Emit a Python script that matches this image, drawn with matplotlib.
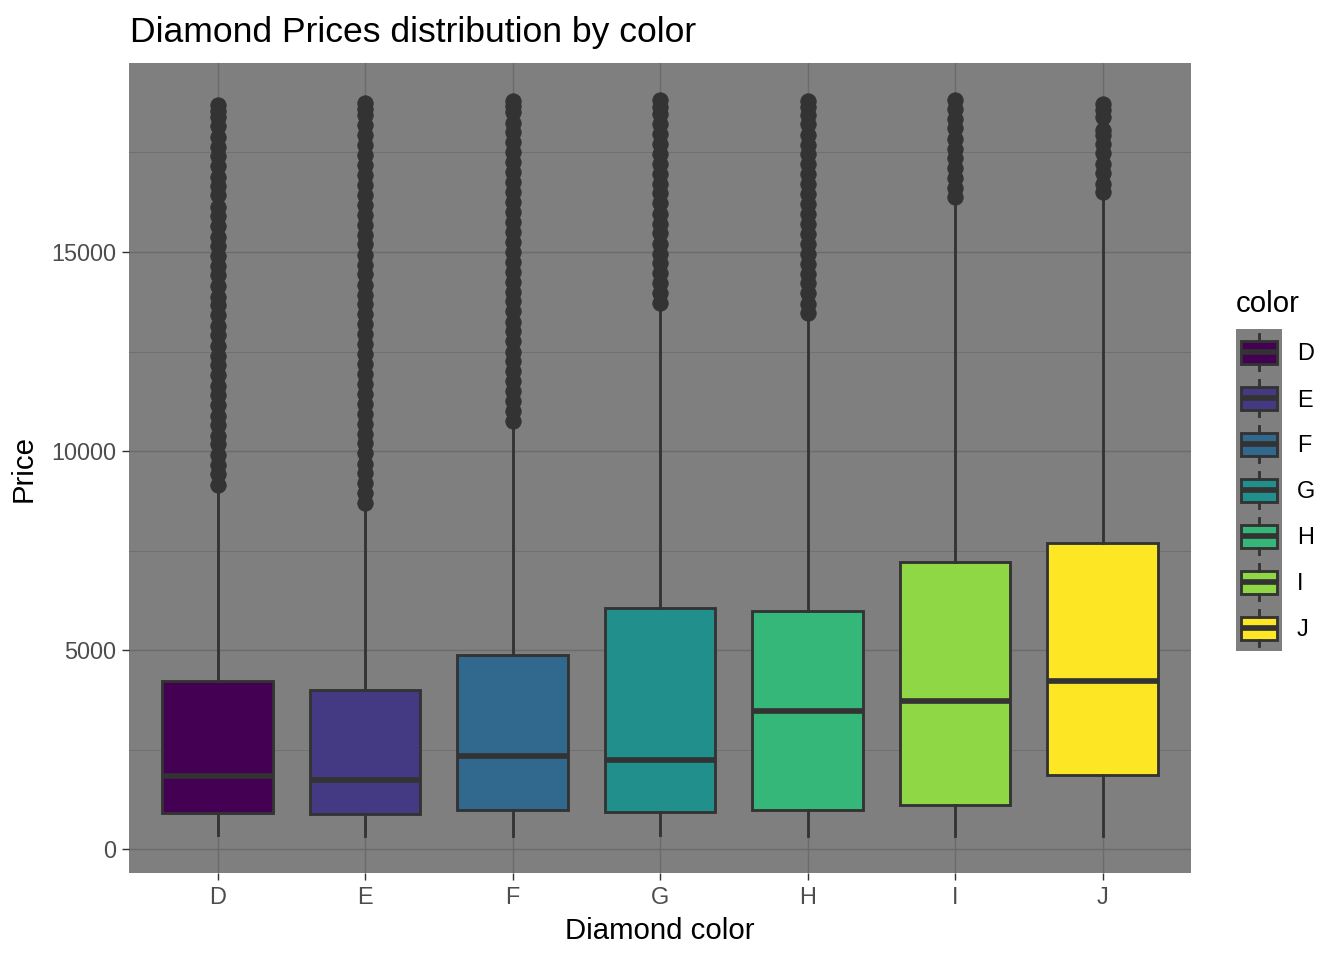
import numpy as np
import matplotlib
matplotlib.use('Agg')
import matplotlib.pyplot as plt
from matplotlib.patches import Rectangle

plt.rcParams['font.family'] = ['Liberation Sans', 'DejaVu Sans']

# box stats (price by diamond colour)
colors = ['D', 'E', 'F', 'G', 'H', 'I', 'J']
fills = ['#440154', '#443A83', '#31688E', '#21908C', '#35B779', '#8FD744', '#FDE725']
q1 = [911, 882, 982, 931, 984, 1120, 1860]
med = [1838, 1739, 2343, 2242, 3460, 3730, 4234]
q3 = [4213, 4003, 4868, 6048, 5980, 7201, 7695]
whis_lo = [357, 326, 342, 354, 337, 334, 335]
whis_hi = [9100, 8650, 10700, 13650, 13400, 16300, 16450]

out_D = [9160, 9420, 9640, 9910, 10170, 10380, 10660, 10890, 11150, 11420, 11630, 11900,
         12160, 12380, 12650, 12910, 13140, 13420, 13660, 13880, 14150, 14420, 14640, 14900,
         15160, 15380, 15650, 15910, 16140, 16420, 16660, 16880, 17150, 17410, 17640, 17900,
         18160, 18380, 18540, 18693]
out_E = [8700, 8940, 9190, 9450, 9680, 9940, 10190, 10430, 10690, 10940, 11180, 11440,
         11690, 11930, 12180, 12440, 12690, 12930, 13180, 13440, 13690, 13930, 14180, 14440,
         14680, 14930, 15190, 15430, 15680, 15940, 16180, 16430, 16690, 16930, 17180, 17440,
         17680, 17930, 18190, 18430, 18600, 18731]
out_F = [10760, 11010, 11260, 11500, 11760, 12010, 12250, 12500, 12760, 13010, 13250, 13510,
         13760, 14000, 14250, 14510, 14760, 15000, 15260, 15510, 15750, 16010, 16260, 16500,
         16750, 17010, 17260, 17500, 17760, 18010, 18250, 18510, 18680, 18791]
out_G = [13720, 13960, 14210, 14470, 14720, 14960, 15210, 15470, 15710, 15960, 16220, 16470,
         16710, 16960, 17220, 17460, 17710, 17970, 18220, 18460, 18650, 18818]
out_H = [13460, 13700, 13960, 14210, 14450, 14700, 14960, 15210, 15450, 15700, 15960, 16200,
         16450, 16710, 16950, 17200, 17460, 17700, 17950, 18210, 18450, 18650, 18803]
out_I = [16370, 16600, 16850, 17100, 17360, 17600, 17850, 18110, 18350, 18600, 18823]
out_J = [16500, 16720, 16980, 17220, 17480, 17720, 17950, 18060, 18380, 18560, 18710]
outliers = [out_D, out_E, out_F, out_G, out_H, out_I, out_J]

yticks = [0, 5000, 10000, 15000]
yminor = [2500, 7500, 12500, 17500]

edge = '#333333'
panel_bg = '#7F7F7F'
grid_col = '#6B6B6B'

fig = plt.figure(figsize=(7, 5), dpi=192)
ax = fig.add_axes([129 / 1344, 87 / 960, 1062 / 1344, 810 / 960])
ax.set_facecolor(panel_bg)
for s in ax.spines.values():
    s.set_visible(False)

stats = []
for i in range(len(colors)):
    stats.append(dict(q1=q1[i], med=med[i], q3=q3[i], whislo=whis_lo[i],
                      whishi=whis_hi[i], fliers=outliers[i], label=colors[i]))

pos = np.arange(1, len(colors) + 1)
bp = ax.bxp(stats, positions=pos, widths=0.75, patch_artist=True, showcaps=False,
            boxprops=dict(edgecolor=edge, linewidth=1.07),
            whiskerprops=dict(color=edge, linewidth=1.07),
            medianprops=dict(color=edge, linewidth=2.13, solid_capstyle='butt'),
            flierprops=dict(marker='o', markersize=5.8, markerfacecolor=edge,
                            markeredgecolor=edge, markeredgewidth=0.3, linestyle='none'),
            zorder=3)
for patch, c in zip(bp['boxes'], fills):
    patch.set_facecolor(c)

ymin = min(whis_lo)
ymax = max(max(o) for o in outliers)
pad = (ymax - ymin) * 0.05
ax.set_ylim(ymin - pad, ymax + pad)
ax.set_xlim(0.4, len(colors) + 0.6)

ax.set_yticks(yticks)
ax.set_yticks(yminor, minor=True)
ax.set_xticks(pos)
ax.set_xticklabels(colors)
ax.grid(True, which='major', color=grid_col, linewidth=0.53, zorder=0)
ax.grid(True, which='minor', axis='y', color=grid_col, linewidth=0.27, zorder=0)
ax.set_axisbelow(True)
ax.tick_params(which='major', length=2.75, width=0.53, color='#333333',
               labelsize=8.8, labelcolor='#4D4D4D', pad=2.2)
ax.tick_params(which='minor', length=0)

ax.set_xlabel('Diamond color', fontsize=11, labelpad=3)
ax.set_ylabel('Price', fontsize=11, labelpad=5)
fig.text(130 / 1344, 1 - 42 / 960, 'Diamond Prices distribution by color', fontsize=13.3,
         ha='left', va='baseline')

# legend drawn by hand in ggplot style
lax = fig.add_axes([1236 / 1344, 1 - 651 / 960, 46 / 1344, 322 / 960])
lax.set_xlim(0, 1)
lax.set_ylim(0, len(colors))
lax.axis('off')
lax.add_patch(Rectangle((0, 0), 1, len(colors), facecolor=panel_bg, edgecolor='none'))
for i, (lab, c) in enumerate(zip(colors, fills)):
    y0 = len(colors) - 1 - i
    lax.plot([0.5, 0.5], [y0 + 0.1, y0 + 0.25], color=edge, lw=1.07)
    lax.plot([0.5, 0.5], [y0 + 0.75, y0 + 0.9], color=edge, lw=1.07)
    lax.add_patch(Rectangle((0.1, y0 + 0.25), 0.8, 0.5, facecolor=c, edgecolor=edge, lw=1.07))
    lax.plot([0.1, 0.9], [y0 + 0.5, y0 + 0.5], color=edge, lw=2.13, solid_capstyle='butt')
    fig.text(1297 / 1344, 1 - (329 + 46 * i + 25) / 960, lab, fontsize=8.8,
             ha='left', va='center')
fig.text(1236 / 1344, 1 - 312 / 960, 'color', fontsize=11, ha='left', va='baseline')

fig.savefig('out.png', dpi=192, facecolor='white')
